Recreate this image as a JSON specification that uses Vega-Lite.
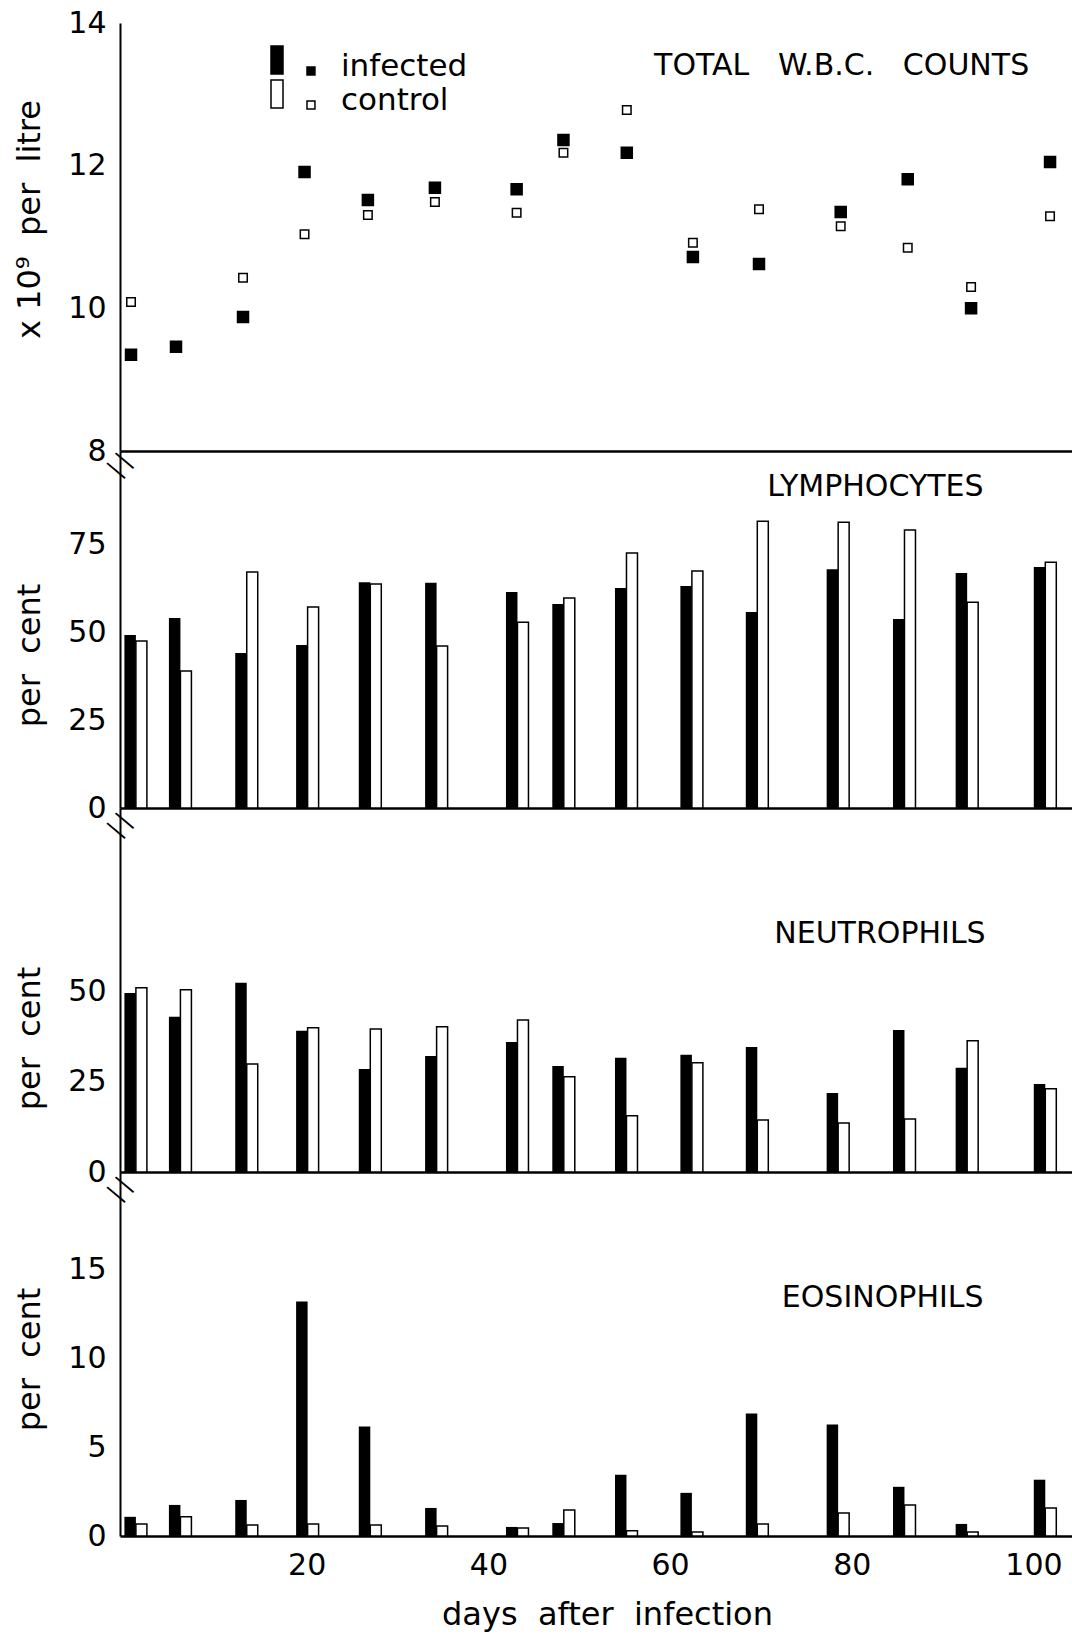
{
  "$schema": "https://vega.github.io/schema/vega-lite/v6.json",
  "background": "white",
  "padding": {"left": 13, "top": 8, "right": 0, "bottom": 5},
  "spacing": 0,
  "bounds": "flush",
  "data": {"values": [
    {"day":1.2,"group":"infected","wbc":9.35,"lymph":49.3,"neut":49.7,"eos":1.08},
    {"day":1.2,"group":"control","wbc":10.09,"lymph":47.6,"neut":51.1,"eos":0.68},
    {"day":6.1,"group":"infected","wbc":9.46,"lymph":54.2,"neut":43.1,"eos":1.75},
    {"day":6.1,"group":"control","wbc":null,"lymph":39.1,"neut":50.6,"eos":1.08},
    {"day":13.4,"group":"infected","wbc":9.88,"lymph":44.2,"neut":52.5,"eos":2.03},
    {"day":13.4,"group":"control","wbc":10.43,"lymph":67.3,"neut":30.0,"eos":0.62},
    {"day":20.1,"group":"infected","wbc":11.91,"lymph":46.5,"neut":39.2,"eos":13.2},
    {"day":20.1,"group":"control","wbc":11.04,"lymph":57.3,"neut":40.0,"eos":0.68},
    {"day":27.0,"group":"infected","wbc":11.52,"lymph":64.4,"neut":28.6,"eos":6.17},
    {"day":27.0,"group":"control","wbc":11.31,"lymph":63.9,"neut":39.7,"eos":0.62},
    {"day":34.3,"group":"infected","wbc":11.69,"lymph":64.2,"neut":32.2,"eos":1.58},
    {"day":34.3,"group":"control","wbc":11.49,"lymph":46.2,"neut":40.3,"eos":0.56},
    {"day":43.2,"group":"infected","wbc":11.67,"lymph":61.6,"neut":36.1,"eos":0.51},
    {"day":43.2,"group":"control","wbc":11.34,"lymph":53.0,"neut":42.2,"eos":0.45},
    {"day":48.3,"group":"infected","wbc":12.36,"lymph":58.2,"neut":29.4,"eos":0.73},
    {"day":48.3,"group":"control","wbc":12.18,"lymph":59.9,"neut":26.4,"eos":1.47},
    {"day":55.2,"group":"infected","wbc":12.18,"lymph":62.7,"neut":31.7,"eos":3.45},
    {"day":55.2,"group":"control","wbc":12.78,"lymph":72.7,"neut":15.6,"eos":0.3},
    {"day":62.4,"group":"infected","wbc":10.72,"lymph":63.3,"neut":32.5,"eos":2.43},
    {"day":62.4,"group":"control","wbc":10.92,"lymph":67.6,"neut":30.3,"eos":0.22},
    {"day":69.6,"group":"infected","wbc":10.62,"lymph":55.9,"neut":34.7,"eos":6.9},
    {"day":69.6,"group":"control","wbc":11.39,"lymph":81.8,"neut":14.4,"eos":0.68},
    {"day":78.5,"group":"infected","wbc":11.35,"lymph":68.1,"neut":21.9,"eos":6.28},
    {"day":78.5,"group":"control","wbc":11.15,"lymph":81.5,"neut":13.6,"eos":1.3},
    {"day":85.8,"group":"infected","wbc":11.81,"lymph":53.9,"neut":39.4,"eos":2.77},
    {"day":85.8,"group":"control","wbc":10.85,"lymph":79.3,"neut":14.7,"eos":1.75},
    {"day":92.7,"group":"infected","wbc":10.0,"lymph":67.0,"neut":28.9,"eos":0.68},
    {"day":92.7,"group":"control","wbc":10.3,"lymph":58.7,"neut":36.4,"eos":0.22},
    {"day":101.3,"group":"infected","wbc":12.05,"lymph":68.7,"neut":24.4,"eos":3.17},
    {"day":101.3,"group":"control","wbc":11.29,"lymph":70.1,"neut":23.1,"eos":1.58}
  ]},
  "resolve": {
    "scale": {"x": "independent", "y": "independent", "fill": "independent"},
    "legend": {"fill": "independent"}
  },
  "vconcat": [
    {
      "width": 953, "height": 428,
      "layer": [
        {
          "mark": {"type": "point", "shape": "square", "filled": true, "stroke": "black", "strokeWidth": 1.5, "opacity": 1},
          "encoding": {
            "x": {"field": "day", "type": "quantitative", "scale": {"domain": [0, 103.8], "nice": false, "zero": false}, "axis": {"labels": false, "title": null}},
            "y": {"field": "wbc", "type": "quantitative", "scale": {"domain": [8, 14], "nice": false, "zero": false}, "axis": {"values": [8, 10, 12, 14], "format": "d", "title": "x\u00a010\u2079\u00a0\u00a0per\u00a0\u00a0litre", "titleY": 196}},
            "fill": {
              "field": "group", "type": "nominal",
              "scale": {"domain": ["infected", "control"], "range": ["black", "white"]},
              "legend": {
                "title": null, "orient": "none", "legendX": 150, "legendY": 28, "padding": 0,
                "symbolType": "M-1,-1.4H-0.2V0.47H-1Z M1.4,0H1.93V0.53H1.4Z",
                "symbolSize": 900, "symbolStrokeColor": "black", "symbolStrokeWidth": 1.5, "symbolOpacity": 1,
                "labelFont": "DejaVu Sans", "labelFontSize": 31, "labelColor": "black", "labelOffset": 39, "rowPadding": -5, "labelLimit": 0,
                "encode": {"symbols": {"update": {
                  "shape": {"value": "M-1,-1.4H-0.2V0.47H-1Z M1.4,0H1.93V0.53H1.4Z"},
                  "size": {"value": 900},
                  "stroke": {"value": "black"},
                  "strokeWidth": {"value": 1.5},
                  "opacity": {"value": 1}
                }}}
              }
            },
            "size": {"condition": {"test": "datum.group === 'infected'", "value": 121}, "value": 72}
          }
        },
        {
          "data": {"values": [{"label": "TOTAL\u00a0\u00a0\u00a0W.B.C.\u00a0\u00a0\u00a0COUNTS"}]},
          "mark": {"type": "text", "fontSize": 30, "align": "center", "baseline": "middle"},
          "encoding": {"x": {"datum": 78.6, "type": "quantitative"}, "y": {"datum": 13.4, "type": "quantitative"}, "text": {"field": "label", "type": "nominal"}}
        }
      ]
    },
    {
      "width": 953, "height": 357,
      "layer": [
        {
          "transform": [{"filter": "datum.group === 'infected'"}],
          "mark": {"type": "bar", "fill": "black", "width": 11.5, "xOffset": -5.75},
          "encoding": {
            "x": {"field": "day", "type": "quantitative", "scale": {"domain": [0, 103.8], "nice": false, "zero": false}, "axis": {"labels": false, "title": null}},
            "y": {"field": "lymph", "type": "quantitative", "scale": {"domain": [0, 101.8], "nice": false}, "axis": {"values": [0, 25, 50, 75], "format": "d", "title": "per\u00a0\u00a0cent", "titleY": 204}}
          }
        },
        {
          "transform": [{"filter": "datum.group === 'control'"}],
          "mark": {"type": "bar", "fill": "white", "stroke": "black", "strokeWidth": 1.5, "width": 11, "xOffset": 5.5},
          "encoding": {
            "x": {"field": "day", "type": "quantitative", "scale": {"domain": [0, 103.8], "nice": false, "zero": false}, "axis": {"labels": false, "title": null}},
            "y": {"field": "lymph", "type": "quantitative", "scale": {"domain": [0, 101.8], "nice": false}, "axis": {"values": [0, 25, 50, 75], "format": "d", "title": "per\u00a0\u00a0cent", "titleY": 204}}
          }
        },
        {
          "data": {"values": [{"label": "LYMPHOCYTES"}]},
          "mark": {"type": "text", "fontSize": 30, "align": "center", "baseline": "middle"},
          "encoding": {"x": {"datum": 82.6, "type": "quantitative"}, "y": {"datum": 91.4, "type": "quantitative"}, "text": {"field": "label", "type": "nominal"}}
        },
        {
          "data": {"values": [{}]},
          "mark": {"type": "text", "text": ["\u2014", "\u2014"], "angle": 40, "fontSize": 26, "lineHeight": 13, "align": "center", "baseline": "middle", "yOffset": 9},
          "encoding": {"x": {"datum": 0, "type": "quantitative"}, "y": {"datum": 101.8, "type": "quantitative"}}
        }
      ]
    },
    {
      "width": 953, "height": 364,
      "layer": [
        {
          "transform": [{"filter": "datum.group === 'infected'"}],
          "mark": {"type": "bar", "fill": "black", "width": 11.5, "xOffset": -5.75},
          "encoding": {
            "x": {"field": "day", "type": "quantitative", "scale": {"domain": [0, 103.8], "nice": false, "zero": false}, "axis": {"labels": false, "title": null}},
            "y": {"field": "neut", "type": "quantitative", "scale": {"domain": [0, 101], "nice": false}, "axis": {"values": [0, 25, 50], "format": "d", "title": "per\u00a0\u00a0cent", "titleY": 230}}
          }
        },
        {
          "transform": [{"filter": "datum.group === 'control'"}],
          "mark": {"type": "bar", "fill": "white", "stroke": "black", "strokeWidth": 1.5, "width": 11, "xOffset": 5.5},
          "encoding": {
            "x": {"field": "day", "type": "quantitative", "scale": {"domain": [0, 103.8], "nice": false, "zero": false}, "axis": {"labels": false, "title": null}},
            "y": {"field": "neut", "type": "quantitative", "scale": {"domain": [0, 101], "nice": false}, "axis": {"values": [0, 25, 50], "format": "d", "title": "per\u00a0\u00a0cent", "titleY": 230}}
          }
        },
        {
          "data": {"values": [{"label": "NEUTROPHILS"}]},
          "mark": {"type": "text", "fontSize": 30, "align": "center", "baseline": "middle"},
          "encoding": {"x": {"datum": 83.1, "type": "quantitative"}, "y": {"datum": 66.1, "type": "quantitative"}, "text": {"field": "label", "type": "nominal"}}
        },
        {
          "data": {"values": [{}]},
          "mark": {"type": "text", "text": ["\u2014", "\u2014"], "angle": 40, "fontSize": 26, "lineHeight": 13, "align": "center", "baseline": "middle", "yOffset": 12},
          "encoding": {"x": {"datum": 0, "type": "quantitative"}, "y": {"datum": 101, "type": "quantitative"}}
        }
      ]
    },
    {
      "width": 953, "height": 364,
      "layer": [
        {
          "transform": [{"filter": "datum.group === 'infected'"}],
          "mark": {"type": "bar", "fill": "black", "width": 11.5, "xOffset": -5.75},
          "encoding": {
            "x": {"field": "day", "type": "quantitative", "scale": {"domain": [0, 103.8], "nice": false, "zero": false}, "axis": {"values": [20, 40, 60, 80, 100], "format": "d", "labelPadding": 14, "title": "days\u00a0\u00a0after\u00a0\u00a0infection", "titlePadding": 19, "titleX": 487}},
            "y": {"field": "eos", "type": "quantitative", "scale": {"domain": [0, 20.5], "nice": false}, "axis": {"values": [0, 5, 10, 15], "format": "d", "title": "per\u00a0\u00a0cent", "titleY": 187}}
          }
        },
        {
          "transform": [{"filter": "datum.group === 'control'"}],
          "mark": {"type": "bar", "fill": "white", "stroke": "black", "strokeWidth": 1.5, "width": 11, "xOffset": 5.5},
          "encoding": {
            "x": {"field": "day", "type": "quantitative", "scale": {"domain": [0, 103.8], "nice": false, "zero": false}, "axis": {"values": [20, 40, 60, 80, 100], "format": "d", "labelPadding": 14, "title": "days\u00a0\u00a0after\u00a0\u00a0infection", "titlePadding": 19, "titleX": 487}},
            "y": {"field": "eos", "type": "quantitative", "scale": {"domain": [0, 20.5], "nice": false}, "axis": {"values": [0, 5, 10, 15], "format": "d", "title": "per\u00a0\u00a0cent", "titleY": 187}}
          }
        },
        {
          "data": {"values": [{"label": "EOSINOPHILS"}]},
          "mark": {"type": "text", "fontSize": 30, "align": "center", "baseline": "middle"},
          "encoding": {"x": {"datum": 83.4, "type": "quantitative"}, "y": {"datum": 13.4, "type": "quantitative"}, "text": {"field": "label", "type": "nominal"}}
        },
        {
          "data": {"values": [{}]},
          "mark": {"type": "text", "text": ["\u2014", "\u2014"], "angle": 40, "fontSize": 26, "lineHeight": 13, "align": "center", "baseline": "middle", "yOffset": 12},
          "encoding": {"x": {"datum": 0, "type": "quantitative"}, "y": {"datum": 20.5, "type": "quantitative"}}
        }
      ]
    }
  ],
  "config": {
    "view": {"stroke": null},
    "font": "DejaVu Sans",
    "text": {"font": "DejaVu Sans", "color": "black"},
    "axis": {
      "labelFont": "DejaVu Sans", "titleFont": "DejaVu Sans",
      "labelFontSize": 30, "titleFontSize": 32, "titleFontWeight": "normal",
      "labelColor": "black", "titleColor": "black", "domainColor": "black",
      "grid": false, "ticks": false, "labelOverlap": false, "labelFlush": false
    },
    "axisY": {"domainWidth": 2, "labelPadding": 14, "minExtent": 50, "maxExtent": 50, "titlePadding": 24},
    "axisX": {"domainWidth": 2.5}
  }
}
